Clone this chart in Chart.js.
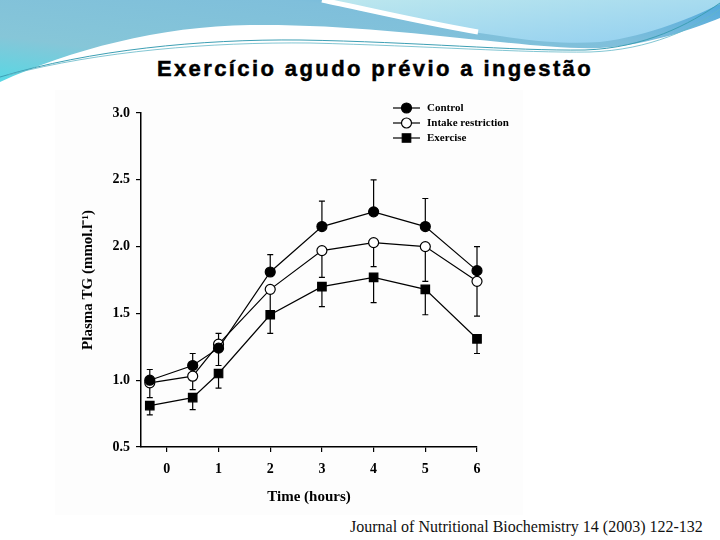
<!DOCTYPE html>
<html>
<head>
<meta charset="utf-8">
<script src="https://cdn.jsdelivr.net/npm/chart.js@4.4.1/dist/chart.umd.min.js"></script>
<style>
  body { margin: 0; width: 720px; height: 540px; background: #fff; position: relative; overflow: hidden; }
  #swoosh { position: absolute; left: 0; top: 0; }
  #title { position: absolute; left: 0; width: 750px; top: 56px; text-align: center;
    font-family: "Liberation Sans", Arial, sans-serif; font-weight: bold; font-size: 22px; letter-spacing: 2.4px;
    -webkit-text-stroke: 0.5px #000; color: #000; }
  #fig { position: absolute; left: 55px; top: 90px; width: 468px; height: 425px; background: #fdfdfd; }
  #chart { position: absolute; left: 55px; top: 90px; }
  #cite { position: absolute; left: 350px; top: 518px; font-family: "Liberation Serif", "Times New Roman", serif; font-size: 16px; color: #111; }
</style>
</head>
<body>
<svg id="swoosh" width="720" height="90" viewBox="0 0 720 90">
  <defs>
    <linearGradient id="blueBand" x1="0" y1="1" x2="1" y2="0">
      <stop offset="0" stop-color="#4fdbe6"/>
      <stop offset="0.3" stop-color="#86c6d8"/>
      <stop offset="0.7" stop-color="#7fbfdb"/>
      <stop offset="1" stop-color="#4fa8dc"/>
    </linearGradient>
    <linearGradient id="lightBand" x1="0" y1="0" x2="1" y2="1">
      <stop offset="0" stop-color="#bce7ee"/>
      <stop offset="1" stop-color="#92cff0"/>
    </linearGradient>
  </defs>
  <rect x="0" y="0" width="720" height="90" fill="url(#blueBand)"/>
  <path d="M0,82 C70,50 160,26 250,25 C340,24 420,34 500,42 C540,46 570,49 600,48 C650,45 695,28 720,18 V90 H0 Z" fill="#fff"/>
  <path d="M330,0 C390,14 440,28 500,36 C540,42 570,44 600,42 C650,36 695,16 720,4 V0 Z" fill="url(#lightBand)"/>
  <path d="M322,0 C370,10 420,22 478,32" stroke="#fff" stroke-width="5" fill="none"/>
  <path d="M0,77 C90,50 200,39 300,40 C420,42 510,51 585,50 C645,48 690,24 720,3" stroke="#3d9fb4" stroke-width="1" fill="none"/>
  <path d="M8,75 C100,51 210,42 310,43 C430,46 520,53 590,52 C650,50 695,28 720,9" stroke="#63b8c8" stroke-width="0.8" fill="none"/>
</svg>
<div id="title">Exercício agudo prévio a ingestão</div>
<div id="fig"></div>
<canvas id="chart" width="470" height="425"></canvas>
<div id="cite">Journal of Nutritional Biochemistry 14 (2003) 122-132</div>
<script>
// time points (hours)
const times = [-0.33, 0.5, 1, 2, 3, 4, 5, 6];
const xTicks = [0, 1, 2, 3, 4, 5, 6];
const yTicks = [0.5, 1.0, 1.5, 2.0, 2.5, 3.0];

// plasma TG means (mmol/l)
const control = [1.00, 1.11, 1.24, 1.81, 2.15, 2.26, 2.15, 1.82];
const intake = [0.98, 1.03, 1.27, 1.68, 1.97, 2.03, 2.00, 1.74];
const exercise = [0.81, 0.87, 1.05, 1.49, 1.70, 1.77, 1.68, 1.31];

// error bars (positive = drawn up, negative = drawn down)
const controlErr = [0.08, 0.09, -0.13, 0.13, 0.19, 0.24, 0.21, 0.18];
const intakeErr = [-0.11, -0.10, 0.08, -0.20, -0.20, -0.18, -0.26, -0.26];
const exerciseErr = [-0.07, -0.09, -0.11, -0.14, -0.15, -0.19, -0.19, -0.11];

const serif = "'Liberation Serif', 'Times New Roman', serif";

function points(vals) {
  return vals.map((v, i) => ({ x: times[i], y: v }));
}

// error bars drawn before the markers so open circles cover them
const errorBars = {
  id: 'errorBars',
  beforeDatasetsDraw(chart) {
    const ctx = chart.ctx;
    const xs = chart.scales.x, ys = chart.scales.y;
    ctx.save();
    ctx.strokeStyle = '#000';
    ctx.lineWidth = 1.2;
    chart.data.datasets.forEach(ds => {
      ds.data.forEach((p, i) => {
        const e = ds.err[i];
        const px = xs.getPixelForValue(p.x);
        const y0 = ys.getPixelForValue(p.y);
        const y1 = ys.getPixelForValue(p.y + e);
        ctx.beginPath();
        ctx.moveTo(px, y0);
        ctx.lineTo(px, y1);
        ctx.moveTo(px - 3, y1);
        ctx.lineTo(px + 3, y1);
        ctx.stroke();
      });
    });
    ctx.restore();
  }
};

// legend inside the plot, upper right
const innerLegend = {
  id: 'innerLegend',
  afterDraw(chart) {
    const ctx = chart.ctx;
    const area = chart.chartArea;
    const x0 = area.left + 252, y0 = area.top - 5;
    ctx.save();
    ctx.font = 'bold 11px ' + serif;
    ctx.textBaseline = 'middle';
    chart.data.datasets.forEach((ds, i) => {
      const y = y0 + i * 15;
      ctx.strokeStyle = '#000';
      ctx.lineWidth = 1.2;
      ctx.beginPath();
      ctx.moveTo(x0, y);
      ctx.lineTo(x0 + 27, y);
      ctx.stroke();
      ctx.fillStyle = ds.pointBackgroundColor;
      ctx.beginPath();
      if (ds.pointStyle === 'rect') {
        const s = ds.pointRadius * Math.SQRT1_2;
        ctx.rect(x0 + 13.5 - s, y - s, 2 * s, 2 * s);
      } else {
        ctx.arc(x0 + 13.5, y, ds.pointRadius, 0, Math.PI * 2);
      }
      ctx.fill();
      ctx.stroke();
      ctx.fillStyle = '#000';
      ctx.fillText(ds.label, x0 + 34, y);
    });
    ctx.restore();
  }
};

const base = {
  borderColor: '#000',
  borderWidth: 1.2,
  pointBorderColor: '#000',
  pointBorderWidth: 1.2,
  showLine: true,
  tension: 0,
  clip: false
};

new Chart(document.getElementById('chart'), {
  type: 'scatter',
  data: {
    datasets: [
      Object.assign({}, base, { label: 'Control', data: points(control), err: controlErr,
        pointStyle: 'circle', pointRadius: 5, pointBackgroundColor: '#000' }),
      Object.assign({}, base, { label: 'Intake restriction', data: points(intake), err: intakeErr,
        pointStyle: 'circle', pointRadius: 5, pointBackgroundColor: '#fff' }),
      Object.assign({}, base, { label: 'Exercise', data: points(exercise), err: exerciseErr,
        pointStyle: 'rect', pointRadius: 6, pointBackgroundColor: '#000' })
    ]
  },
  options: {
    responsive: false,
    animation: false,
    layout: { padding: { top: 23, right: 48, left: 0, bottom: 0 } },
    plugins: { legend: { display: false }, tooltip: { enabled: false } },
    scales: {
      x: {
        type: 'linear',
        min: -0.5,
        max: 6,
        afterBuildTicks: s => { s.ticks = xTicks.map(v => ({ value: v })); },
        afterFit: s => { s.height = 68; },
        grid: { drawOnChartArea: false, drawTicks: true, tickLength: 5, color: '#000', lineWidth: 1.2 },
        border: { display: true, color: '#000', width: 1.5 },
        ticks: { color: '#000', padding: 9, font: { family: serif, size: 14, weight: 'bold' } },
        title: { display: true, text: 'Time (hours)', color: '#000', padding: { top: 0, bottom: 9 },
          font: { family: serif, size: 15, weight: 'bold' } }
      },
      y: {
        min: 0.5,
        max: 3.0,
        afterBuildTicks: s => { s.ticks = yTicks.map(v => ({ value: v })); },
        afterFit: s => { s.width = 86; },
        grid: { drawOnChartArea: false, drawTicks: true, tickLength: 5, color: '#000', lineWidth: 1.2 },
        border: { display: true, color: '#000', width: 1.5 },
        ticks: { color: '#000', padding: 6, callback: v => v.toFixed(1),
          font: { family: serif, size: 14, weight: 'bold' } },
        title: { display: true, text: 'Plasma TG (mmol.l⁻¹)', color: '#000', padding: { top: 24, bottom: 0 },
          font: { family: serif, size: 15, weight: 'bold' } }
      }
    }
  },
  plugins: [errorBars, innerLegend]
});
</script>
</body>
</html>
